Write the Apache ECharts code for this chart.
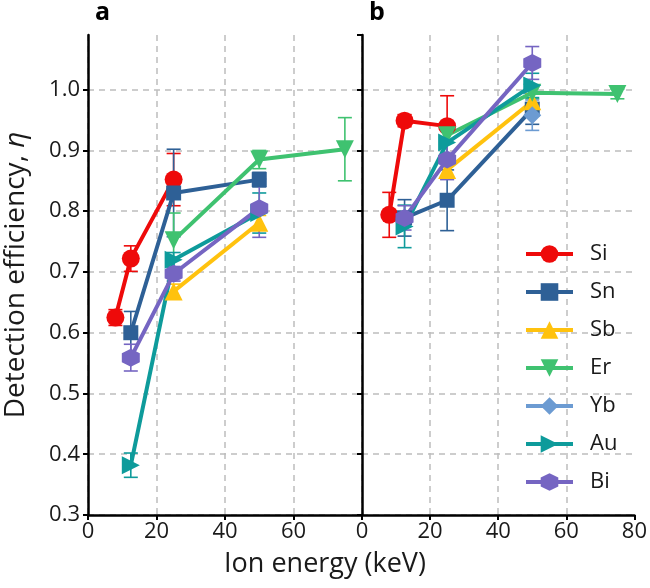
<!DOCTYPE html>
<html>
<head>
<meta charset="utf-8">
<script src="https://cdn.jsdelivr.net/npm/echarts@6/dist/echarts.min.js"></script>
<style>
  html, body { margin: 0; padding: 0; background: #fff; }
  #chart { width: 650px; height: 588px; }
</style>
</head>
<body>
<div id="chart"></div>
<script>
// [energy keV, efficiency, error]
var siA = [[8, 0.625, 0.013], [12.5, 0.722, 0.021], [25, 0.852, 0.043]];
var snA = [[12.5, 0.600, 0.035], [25, 0.830, 0.072], [50, 0.852, 0.012]];
var sbA = [[25, 0.668, 0.012], [50, 0.781, 0.012]];
var erA = [[25, 0.752, 0.045], [50, 0.885, 0.015], [75, 0.902, 0.052]];
var auA = [[12.5, 0.382, 0.020], [25, 0.720, 0.012], [50, 0.797, 0.033]];
var biA = [[12.5, 0.559, 0.022], [25, 0.697, 0.012], [50, 0.805, 0.048]];

var siB = [[8, 0.794, 0.037], [12.5, 0.949, 0.010], [25, 0.940, 0.050]];
var snB = [[12.5, 0.789, 0.030], [25, 0.818, 0.050], [50, 0.968, 0.025]];
var sbB = [[25, 0.868, 0.015], [50, 0.981, 0.012]];
var erB = [[25, 0.925, 0.012], [50, 0.995, 0.010], [75, 0.993, 0.008]];
var ybB = [[50, 0.958, 0.025]];
var auB = [[12.5, 0.775, 0.035], [25, 0.913, 0.020], [50, 1.007, 0.020]];
var biB = [[12.5, 0.789, 0.020], [25, 0.885, 0.033], [50, 1.044, 0.027]];

var elements = ['Si', 'Sn', 'Sb', 'Er', 'Yb', 'Au', 'Bi'];
var xTicks = [0, 20, 40, 60, 80];

var FONT = 'Open Sans';
var hexagon = 'path://M0,-10 L8.66,-5 L8.66,5 L0,10 L-8.66,5 L-8.66,-5 Z';

var styles = {
  Si: {color: '#ee0a0a', symbol: 'circle', rot: 0},
  Sn: {color: '#2e6096', symbol: 'rect', rot: 0},
  Sb: {color: '#ffc20e', symbol: 'triangle', rot: 0},
  Er: {color: '#3fc270', symbol: 'triangle', rot: 180},
  Yb: {color: '#6c9bd2', symbol: 'diamond', rot: 0},
  Au: {color: '#0e9b9b', symbol: 'triangle', rot: -90},
  Bi: {color: '#7565c2', symbol: hexagon, rot: 0}
};

function errBars(color) {
  return function (params, api) {
    var x = api.value(0), y = api.value(1), e = api.value(2);
    var hi = api.coord([x, y + e]);
    var lo = api.coord([x, y - e]);
    var w = 7;
    var st = {stroke: color, lineWidth: 1.6};
    return {
      type: 'group',
      children: [
        {type: 'line', shape: {x1: hi[0], y1: hi[1], x2: lo[0], y2: lo[1]}, style: st},
        {type: 'line', shape: {x1: hi[0] - w, y1: hi[1], x2: hi[0] + w, y2: hi[1]}, style: st},
        {type: 'line', shape: {x1: lo[0] - w, y1: lo[1], x2: lo[0] + w, y2: lo[1]}, style: st}
      ]
    };
  };
}

var series = [];
function addSeries(name, data, idx) {
  var s = styles[name];
  series.push({
    name: name + '_err',
    type: 'custom',
    xAxisIndex: idx, yAxisIndex: idx,
    renderItem: errBars(s.color),
    data: data,
    z: 2,
    silent: true
  });
  series.push({
    name: name,
    type: 'line',
    xAxisIndex: idx, yAxisIndex: idx,
    data: data.map(function (d) { return [d[0], d[1]]; }),
    symbol: s.symbol,
    symbolRotate: s.rot,
    symbolSize: name === 'Sn' ? 15 : 18,
    lineStyle: {color: s.color, width: 4},
    itemStyle: {color: s.color},
    z: 3,
    animation: false
  });
}

addSeries('Si', siA, 0); addSeries('Sn', snA, 0); addSeries('Sb', sbA, 0);
addSeries('Er', erA, 0); addSeries('Au', auA, 0); addSeries('Bi', biA, 0);
addSeries('Si', siB, 1); addSeries('Sn', snB, 1); addSeries('Sb', sbB, 1);
addSeries('Er', erB, 1); addSeries('Yb', ybB, 1); addSeries('Au', auB, 1);
addSeries('Bi', biB, 1);

var gridLine = {show: true, lineStyle: {color: '#bdbdbd', type: [6, 5], width: 1.5}, showMaxLine: false};
var axisLine = {show: true, onZero: false, lineStyle: {color: '#000', width: 2.5}};
var tick = {show: true, inside: false, length: 5, lineStyle: {color: '#000', width: 2}};

function xAxis(idx, hideMax) {
  return {
    type: 'value', gridIndex: idx, min: xTicks[0], max: xTicks[xTicks.length - 1], interval: 20,
    axisLine: axisLine, axisTick: tick, splitLine: gridLine,
    axisLabel: {fontFamily: FONT, fontSize: 22, color: '#1a1a1a', margin: 6, showMaxLabel: !hideMax}
  };
}
function yAxis(idx, labels) {
  return {
    type: 'value', gridIndex: idx, min: 0.3, max: 1.09, interval: 0.1,
    axisLine: axisLine, axisTick: tick, splitLine: gridLine,
    axisLabel: {
      show: labels, fontFamily: FONT, fontSize: 22, color: '#1a1a1a', margin: 8, showMaxLabel: false,
      formatter: function (v) { return v.toFixed(1); }
    },
    name: labels ? '{n|Detection efficiency, }{i|η}' : '',
    nameLocation: 'middle', nameGap: 58,
    nameTextStyle: {
      rich: {
        n: {fontFamily: FONT, fontSize: 28, color: '#1a1a1a'},
        i: {fontFamily: FONT, fontSize: 28, color: '#1a1a1a', fontStyle: 'italic'}
      }
    }
  };
}

var chart = echarts.init(document.getElementById('chart'), null, {renderer: 'canvas'});
chart.setOption({
  animation: false,
  backgroundColor: '#fff',
  grid: [
    {left: 88, top: 35, width: 274, height: 480},
    {left: 362, top: 35, width: 273, height: 480}
  ],
  xAxis: [xAxis(0, true), xAxis(1, false)],
  yAxis: [yAxis(0, true), yAxis(1, false)],
  legend: {
    data: elements,
    orient: 'vertical', left: 519, top: 238,
    itemWidth: 47, itemHeight: 22, itemGap: 16,
    lineStyle: {width: 4},
    textStyle: {fontFamily: FONT, fontSize: 22, color: '#1a1a1a', padding: [0, 0, 0, 12]}
  },
  graphic: [
    {type: 'text', left: 95, top: 0, style: {text: 'a', font: 'bold 25px ' + FONT, fill: '#000'}},
    {type: 'text', left: 369, top: 0, style: {text: 'b', font: 'bold 25px ' + FONT, fill: '#000'}},
    {type: 'text', left: 'center', top: 551, style: {text: 'Ion energy (keV)', font: '27px ' + FONT, fill: '#1a1a1a', x: 37}}
  ],
  series: series
});
</script>
</body>
</html>
